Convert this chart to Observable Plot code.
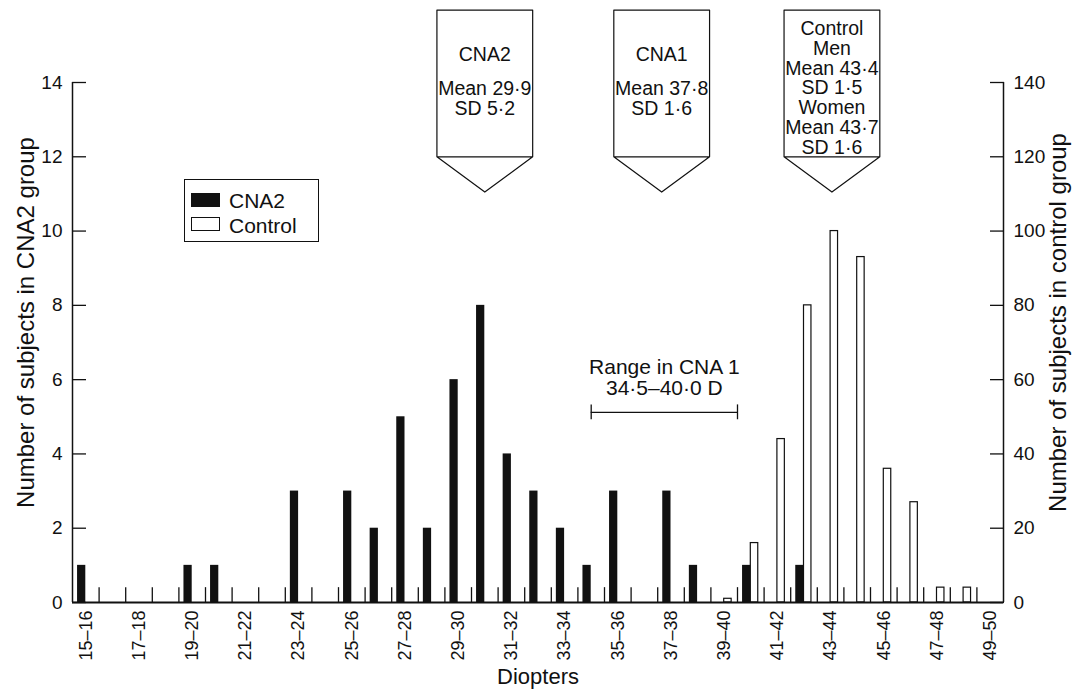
<!DOCTYPE html>
<html>
<head>
<meta charset="utf-8">
<script src="https://cdn.jsdelivr.net/npm/d3@7"></script>
<script src="https://cdn.jsdelivr.net/npm/@observablehq/plot@0.6"></script>
<style>
  body { margin: 0; background: #fff; }
  #wrap { position: relative; width: 1079px; height: 698px; font-family: "Liberation Sans", Arial, Helvetica, sans-serif; color: #111; }
  #wrap svg { position: absolute; left: 0; top: 0; }
  #legend { position: absolute; left: 184px; top: 179px; width: 135px; height: 63px; border: 1.2px solid #111; box-sizing: border-box; background: #fff; }
  #legend .sw { position: absolute; left: 6px; width: 29px; height: 14px; box-sizing: border-box; border: 1.2px solid #111; }
  #legend .lab { position: absolute; left: 44px; font-size: 21px; line-height: 21px; }
</style>
</head>
<body>
<div id="wrap"></div>
<script>
// ---- data ----
const bins = [15,16,17,18,19,20,21,22,23,24,25,26,27,28,29,30,31,32,33,34,35,36,37,38,39,40,41,42,43,44,45,46,47,48,49];
const cna2 = [1,0,0,0,1,1,0,0,3,0,3,2,5,2,6,8,4,3,2,1,3,0,3,1,0,1,0,1,0,0,0,0,0,0,0];
const control = [0,0,0,0,0,0,0,0,0,0,0,0,0,0,0,0,0,0,0,0,0,0,0,0,1,16,44,80,100,93,36,27,4,4,0];
const xLabelBins = [15,17,19,21,23,25,27,29,31,33,35,37,39,41,43,45,47,49];
const xLabels = ["15–16","17–18","19–20","21–22","23–24","25–26","27–28","29–30","31–32","33–34","35–36","37–38","39–40","41–42","43–44","45–46","47–48","49–50"];
const leftTicks = [0,2,4,6,8,10,12,14];
const rightTicks = [0,20,40,60,80,100,120,140];
const seriesNames = ["CNA2","Control"];
const calloutX = [30.5, 37.15, 43.55];
const calloutHead = ["CNA2","CNA1","Control\nMen\nMean 43·4\nSD 1·5\nWomen\nMean 43·7\nSD 1·6"];
const calloutStats = ["Mean 29·9\nSD 5·2","Mean 37·8\nSD 1·6",""];
const rangeText = "Range in CNA 1\n34·5–40·0 D";
const rangeLo = 34.5, rangeHi = 40.0;
const xTitle = "Diopters";
const yLeftTitle = "Number of subjects in CNA2 group";
const yRightTitle = "Number of subjects in control group";

// ---- derived ----
const ratio = rightTicks[rightTicks.length - 1] / leftTicks[leftTicks.length - 1];
const xDomain = [bins[0], bins[bins.length - 1] + 1];
const yDomain = [0, leftTicks[leftTicks.length - 1]];
const rows = bins.map((b, i) => ({lo: b, cna2: cna2[i], control: control[i]}));
const font = "'Liberation Sans', Arial, Helvetica, sans-serif";
const ink = "#111";

// callout outlines (annotation shapes, in left-axis units)
const half = 1.8, yTop = 15.95, yShoulder = 12.0, yTip = 11.05;
const calloutPts = calloutX.flatMap((cx, k) => [
  [cx - half, yShoulder], [cx - half, yTop], [cx + half, yTop], [cx + half, yShoulder],
  [cx - half, yShoulder], [cx, yTip], [cx + half, yShoulder]
].map(([x, y]) => ({k, x, y})));
const calloutRows = calloutX.map((x, i) => ({x, head: calloutHead[i], stats: calloutStats[i]}));

const rangeY = 5.12;

const chart = Plot.plot({
  width: 1079,
  height: 698,
  marginLeft: 72,
  marginRight: 76,
  marginTop: 82,
  marginBottom: 96,
  x: {domain: xDomain},
  y: {domain: yDomain},
  style: {fontFamily: font, fontSize: "18px", color: ink, background: "transparent", overflow: "visible"},
  marks: [
    // axes lines
    Plot.ruleX(xDomain, {stroke: ink, strokeWidth: 1.5}),
    // small bin-boundary ticks
    Plot.ruleX(bins.slice(1), {y1: 0, y2: 0.4, stroke: ink, strokeWidth: 1.3}),
    // control bars (right axis, scaled into left units)
    Plot.rectY(rows.filter(d => d.control > 0), {
      x1: d => d.lo + 0.5, x2: d => d.lo + 0.78, y: d => d.control / ratio,
      fill: "white", stroke: ink, strokeWidth: 1.2
    }),
    // CNA2 bars
    Plot.rectY(rows.filter(d => d.cna2 > 0), {
      x1: d => d.lo + 0.19, x2: d => d.lo + 0.5, y: d => d.cna2, fill: ink
    }),
    Plot.ruleY([0], {stroke: ink, strokeWidth: 2}),
    // axes
    Plot.axisY({anchor: "left", ticks: leftTicks, tickSize: -14, tickPadding: 24, label: null, fontSize: 19, stroke: ink, strokeWidth: 1.3}),
    Plot.axisY({anchor: "right", ticks: leftTicks, tickFormat: d => String(d * ratio), tickSize: -14, tickPadding: 24, label: null, fontSize: 19, stroke: ink, strokeWidth: 1.3}),
    Plot.axisX({ticks: xLabelBins.map(b => b + 0.5), tickFormat: d => xLabels[xLabelBins.indexOf(d - 0.5)], tickRotate: -90, tickSize: 0, tickPadding: 8, label: null, fontSize: 18}),
    // axis titles
    Plot.text([xTitle], {text: d => d, frameAnchor: "bottom", dy: 81, fontSize: 22, fill: ink}),
    Plot.text([yLeftTitle], {text: d => d, frameAnchor: "left", textAnchor: "middle", dx: -46, dy: -20, rotate: -90, fontSize: 24, fill: ink}),
    Plot.text([yRightTitle], {text: d => d, frameAnchor: "right", textAnchor: "middle", dx: 55, dy: -20, rotate: -90, fontSize: 24, fill: ink}),
    // range annotation
    Plot.ruleY([rangeY], {x1: rangeLo, x2: rangeHi, stroke: ink, strokeWidth: 1.3}),
    Plot.ruleX([rangeLo, rangeHi], {y1: rangeY - 0.2, y2: rangeY + 0.2, stroke: ink, strokeWidth: 1.3}),
    Plot.text([rangeText], {text: d => d, x: (rangeLo + rangeHi) / 2, y: 6.05, fontSize: 21, lineHeight: 1.02, fill: ink}),
    // callouts
    Plot.line(calloutPts, {x: "x", y: "y", z: "k", stroke: ink, strokeWidth: 1.2, curve: "linear"}),
    Plot.text(calloutRows, {x: "x", y: d => d.stats ? 14.75 : 13.85, text: "head", fontSize: 19.5, lineHeight: 1.015, fill: ink}),
    Plot.text(calloutRows.filter(d => d.stats), {x: "x", y: 13.56, text: "stats", fontSize: 19.5, lineHeight: 1.015, fill: ink})
  ]
});

const wrap = document.getElementById("wrap");
wrap.appendChild(chart);

// legend (HTML overlay)
const legend = document.createElement("div");
legend.id = "legend";
seriesNames.forEach((name, i) => {
  const sw = document.createElement("div");
  sw.className = "sw";
  sw.style.top = (i === 0 ? 13 : 37) + "px";
  sw.style.background = i === 0 ? ink : "#fff";
  const lab = document.createElement("div");
  lab.className = "lab";
  lab.style.top = (i === 0 ? 10 : 35) + "px";
  lab.textContent = name;
  legend.appendChild(sw);
  legend.appendChild(lab);
});
wrap.appendChild(legend);
</script>
</body>
</html>
